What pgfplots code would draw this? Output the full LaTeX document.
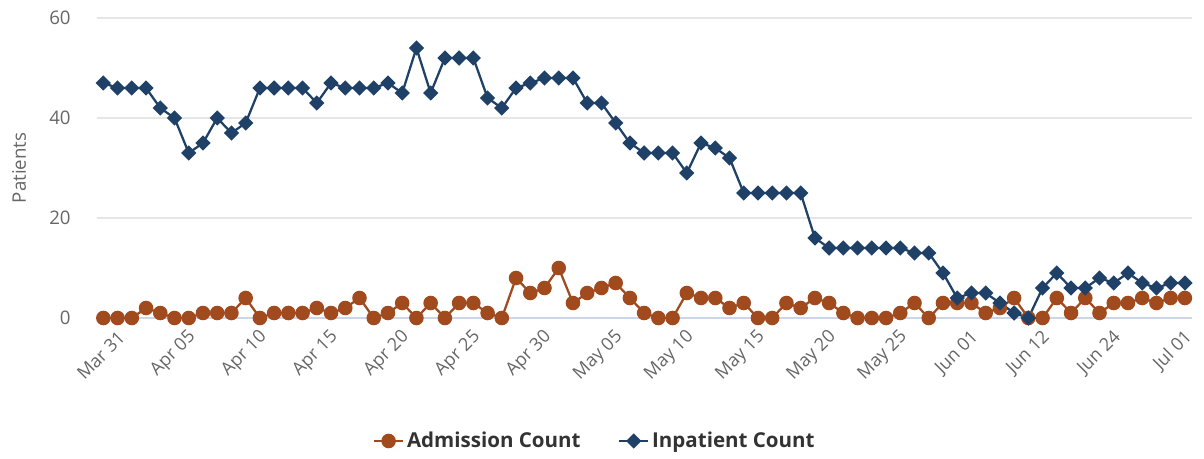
\documentclass[border=0pt]{standalone}
\usepackage{fontspec}
\setmainfont{Open Sans}
\usepackage{pgfplots}
\pgfplotsset{compat=1.18}
\definecolor{adm}{HTML}{A14A1E}
\definecolor{inp}{HTML}{1F4168}
\definecolor{gridc}{HTML}{E6E6E6}
\definecolor{zeroc}{HTML}{CCD6EB}
\definecolor{lblc}{HTML}{666666}
\definecolor{legc}{HTML}{333333}
\begin{document}
\begin{tikzpicture}
\path[use as bounding box] (0,0) rectangle (903pt,343.5pt);
\begin{axis}[
  at={(72.5pt,105pt)}, anchor=south west,
  scale only axis, width=821.5pt, height=225pt,
  xmin=-0.47, xmax=76.5, ymin=0, ymax=60,
  axis x line*=bottom, axis y line*=left,
  x axis line style={draw=zeroc, line width=1.1pt, -},
  y axis line style={draw=none},
  ymajorgrids, grid style={gridc, line width=1.1pt},
  major tick length=0pt,
  /pgf/number format/assume math mode=true,
  ytick={0,20,40,60},
  yticklabel style={anchor=east, inner sep=0pt, xshift=-19.3pt, font=\fontsize{14}{16}\selectfont, text=lblc},
  xtick={0,5,...,75},
  xticklabels={Mar 31,Apr 05,Apr 10,Apr 15,Apr 20,Apr 25,Apr 30,May 05,May 10,May 15,May 20,May 25,Jun 01,Jun 12,Jun 24,Jul 01},
  xticklabel style={rotate=45, anchor=east, inner sep=0pt, yshift=-18.5pt, xshift=1.2pt, font=\fontsize{13.5}{16}\selectfont, text=lblc},
  ylabel={Patients},
  ylabel style={at={(axis description cs:-0.0709,0.5)}, anchor=center, font=\fontsize{14}{16}\selectfont, text=lblc},
  legend style={at={(0.455,-0.41)}, anchor=center, legend columns=2, draw=none, fill=none,
    font=\fontsize{15.4}{18}\selectfont\bfseries, text=legc,
    /tikz/every even column/.append style={column sep=26pt}},
  legend cell align=left,
  legend image code/.code={\draw[#1, mark repeat=2, mark phase=2] plot coordinates {(0pt,0pt) (11pt,0pt) (22pt,0pt)};},
]
\addplot[adm, line width=1.7pt, mark=*, mark size=4.6pt, mark options={solid, fill=adm, draw=adm}] coordinates {
(0,0) (1,0) (2,0) (3,2) (4,1) (5,0) (6,0) (7,1) (8,1) (9,1)
(10,4) (11,0) (12,1) (13,1) (14,1) (15,2) (16,1) (17,2) (18,4) (19,0)
(20,1) (21,3) (22,0) (23,3) (24,0) (25,3) (26,3) (27,1) (28,0) (29,8)
(30,5) (31,6) (32,10) (33,3) (34,5) (35,6) (36,7) (37,4) (38,1) (39,0)
(40,0) (41,5) (42,4) (43,4) (44,2) (45,3) (46,0) (47,0) (48,3) (49,2)
(50,4) (51,3) (52,1) (53,0) (54,0) (55,0) (56,1) (57,3) (58,0) (59,3)
(60,3) (61,3) (62,1) (63,2) (64,4) (65,0) (66,0) (67,4) (68,1) (69,4)
(70,1) (71,3) (72,3) (73,4) (74,3) (75,4) (76,4)
};
\addlegendentry{Admission Count}
\addplot[inp, line width=1.7pt, mark=square*, mark size=3.2pt, mark options={solid, rotate=45, fill=inp, draw=inp}] coordinates {
(0,47) (1,46) (2,46) (3,46) (4,42) (5,40) (6,33) (7,35) (8,40) (9,37)
(10,39) (11,46) (12,46) (13,46) (14,46) (15,43) (16,47) (17,46) (18,46) (19,46)
(20,47) (21,45) (22,54) (23,45) (24,52) (25,52) (26,52) (27,44) (28,42) (29,46)
(30,47) (31,48) (32,48) (33,48) (34,43) (35,43) (36,39) (37,35) (38,33) (39,33)
(40,33) (41,29) (42,35) (43,34) (44,32) (45,25) (46,25) (47,25) (48,25) (49,25)
(50,16) (51,14) (52,14) (53,14) (54,14) (55,14) (56,14) (57,13) (58,13) (59,9)
(60,4) (61,5) (62,5) (63,3) (64,1) (65,0) (66,6) (67,9) (68,6) (69,6)
(70,8) (71,7) (72,9) (73,7) (74,6) (75,7) (76,7)
};
\addlegendentry{Inpatient Count}
\end{axis}
\end{tikzpicture}
\end{document}
